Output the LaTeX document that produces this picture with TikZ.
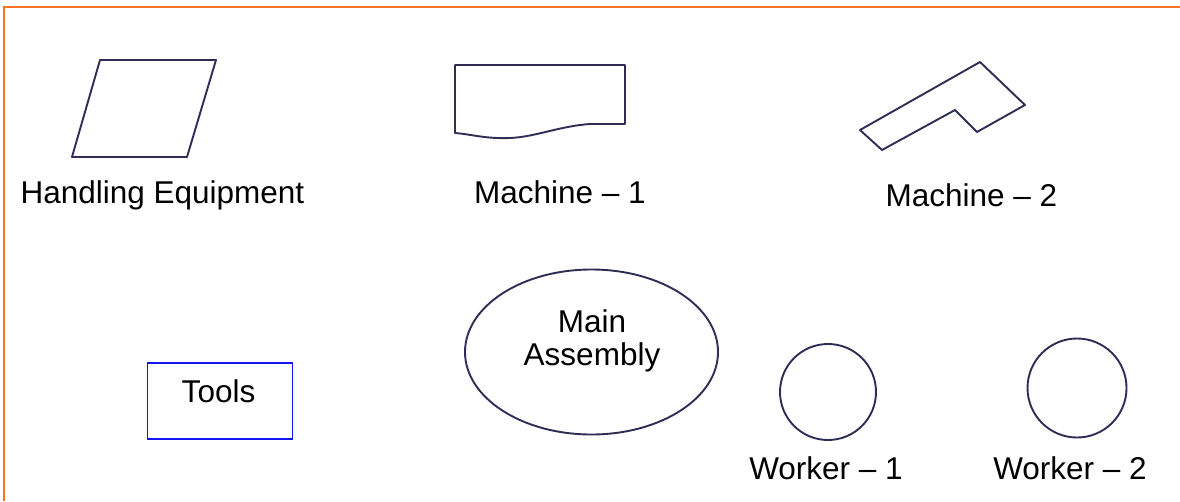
\documentclass[tikz,border=0pt]{standalone}
\usepackage{fontspec}
\setmainfont{Liberation Sans}
\usetikzlibrary{shapes.geometric}

\definecolor{inkline}{RGB}{45,45,85}
\definecolor{frameorange}{RGB}{255,115,35}
\definecolor{toolblue}{RGB}{20,20,245}

\begin{document}
\begin{tikzpicture}[x=1pt,y=-1pt,
            outline/.style = {draw=inkline,
                        line width=1.9pt,
                        line join=round},
            lbl/.style = {font=\fontsize{31.5}{33}\selectfont,
                        inner sep=0pt,
                        anchor=base}]
            \useasboundingbox (0,0) rectangle (1180,501);
            % Page frame (top and left edges only)
            \draw [draw=frameorange, line width=1.8pt] (1180,7) -- (4,7) -- (4,501);
            % Handling equipment
            \draw [outline] (72,157) -- (100,60) -- (216,60) -- (187,157) -- cycle;
            \node[lbl] (handling) at (162.5,203) {Handling Equipment};
            % Machine 1
            \draw [outline] (455,65) -- (625,65) -- (625,124) -- (590,124)
                .. controls (560,126) and (535,137) .. (510,138)
                .. controls (485,139) and (470,134) .. (455,133) -- cycle;
            \node[lbl] (mach1) at (560,203) {Machine -- 1};
            % Machine 2
            \draw [outline] (860,130) -- (980,62) -- (1025,105) -- (977,132)
                -- (955,110) -- (882,150) -- cycle;
            \node[lbl] (mach2) at (971.5,206) {Machine -- 2};
            % Tools
            \node[draw=toolblue, line width=1.9pt, minimum width=145pt,
                minimum height=76pt] (toolbox) at (220,401) {};
            \node[lbl] (tools) at (218.5,402) {Tools};
            % Main assembly (base sits on the last line)
            \node[outline, ellipse, minimum width=253pt,
                minimum height=165pt] (assembly) at (591.5,352) {};
            \node[lbl, align=center] (asmlabel) at (592,365) {Main\\Assembly};
            % Workers
            \node[outline, circle, minimum size=96pt] (w1) at (828,392) {};
            \node[outline, circle, minimum size=99pt] (w2) at (1077,388) {};
            \node[lbl] (w1label) at (826,479) {Worker -- 1};
            \node[lbl] (w2label) at (1070,479) {Worker -- 2};
\end{tikzpicture}
\end{document}
